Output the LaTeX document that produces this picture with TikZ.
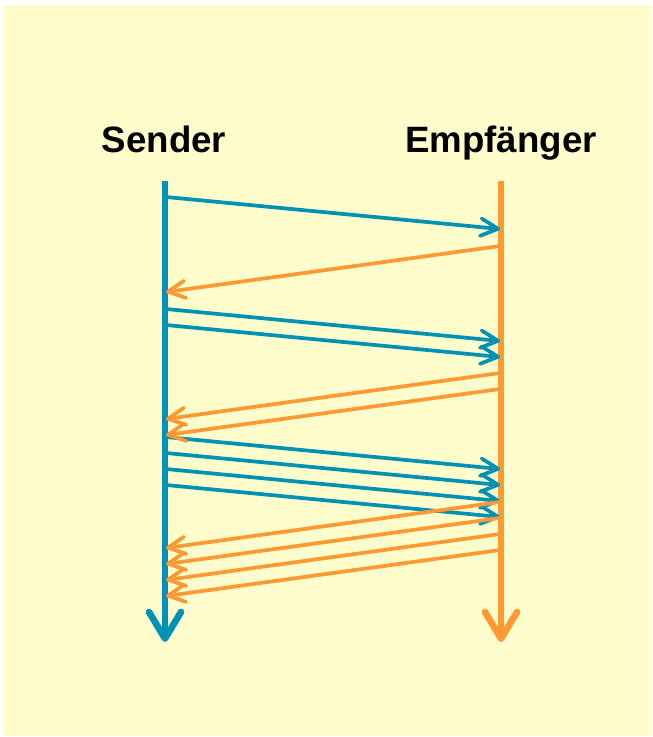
\documentclass[tikz,border=0pt]{standalone}
\usepackage{fontspec}
\setmainfont{Liberation Sans}
\usetikzlibrary{arrows.meta}
\definecolor{bgyellow}{RGB}{255,253,204}
\definecolor{sendblue}{RGB}{0,146,180}
\definecolor{recvorange}{RGB}{255,153,51}

\begin{document}
\begin{tikzpicture}[x=0.75pt,y=-0.75pt,
  party/.style={font=\fontsize{27.5}{32}\selectfont\bfseries, anchor=base, inner sep=0pt},
  lifeline/.style={line width=5pt, -{Straight Barb[round,length=20pt,width=24pt]}},
  msg/.style={line width=2.8pt, -{Straight Barb[round,length=13pt,width=13pt]}}]
\useasboundingbox (0,0) rectangle (652,737);
\fill[bgyellow] (4,5) rectangle (652,736);

\node[party] (sender) at (164,153) {Sender};
\node[party] (empf) at (501,153) {Empfänger};

\coordinate (s top) at (165,181);
\coordinate (s end) at (165,642);
\coordinate (e top) at (501,181);
\coordinate (e end) at (501,642);
\draw[lifeline, sendblue] (s top) -- (s end);
\draw[lifeline, recvorange] (e top) -- (e end);

% Datenpakete
\foreach \t in {197,309,325,437,453,469,485}{
  \coordinate (out\t) at (166,\t);
  \coordinate (in\t) at (500,\t+32);
  \draw[msg, sendblue] (out\t) -- (in\t);
}
% Quittungen
\foreach \t in {246,373,389,502,518,534,550}{
  \coordinate (ack\t) at (500,\t);
  \coordinate (got\t) at (166,\t+46);
  \draw[msg, recvorange] (ack\t) -- (got\t);
}
\end{tikzpicture}
\end{document}
